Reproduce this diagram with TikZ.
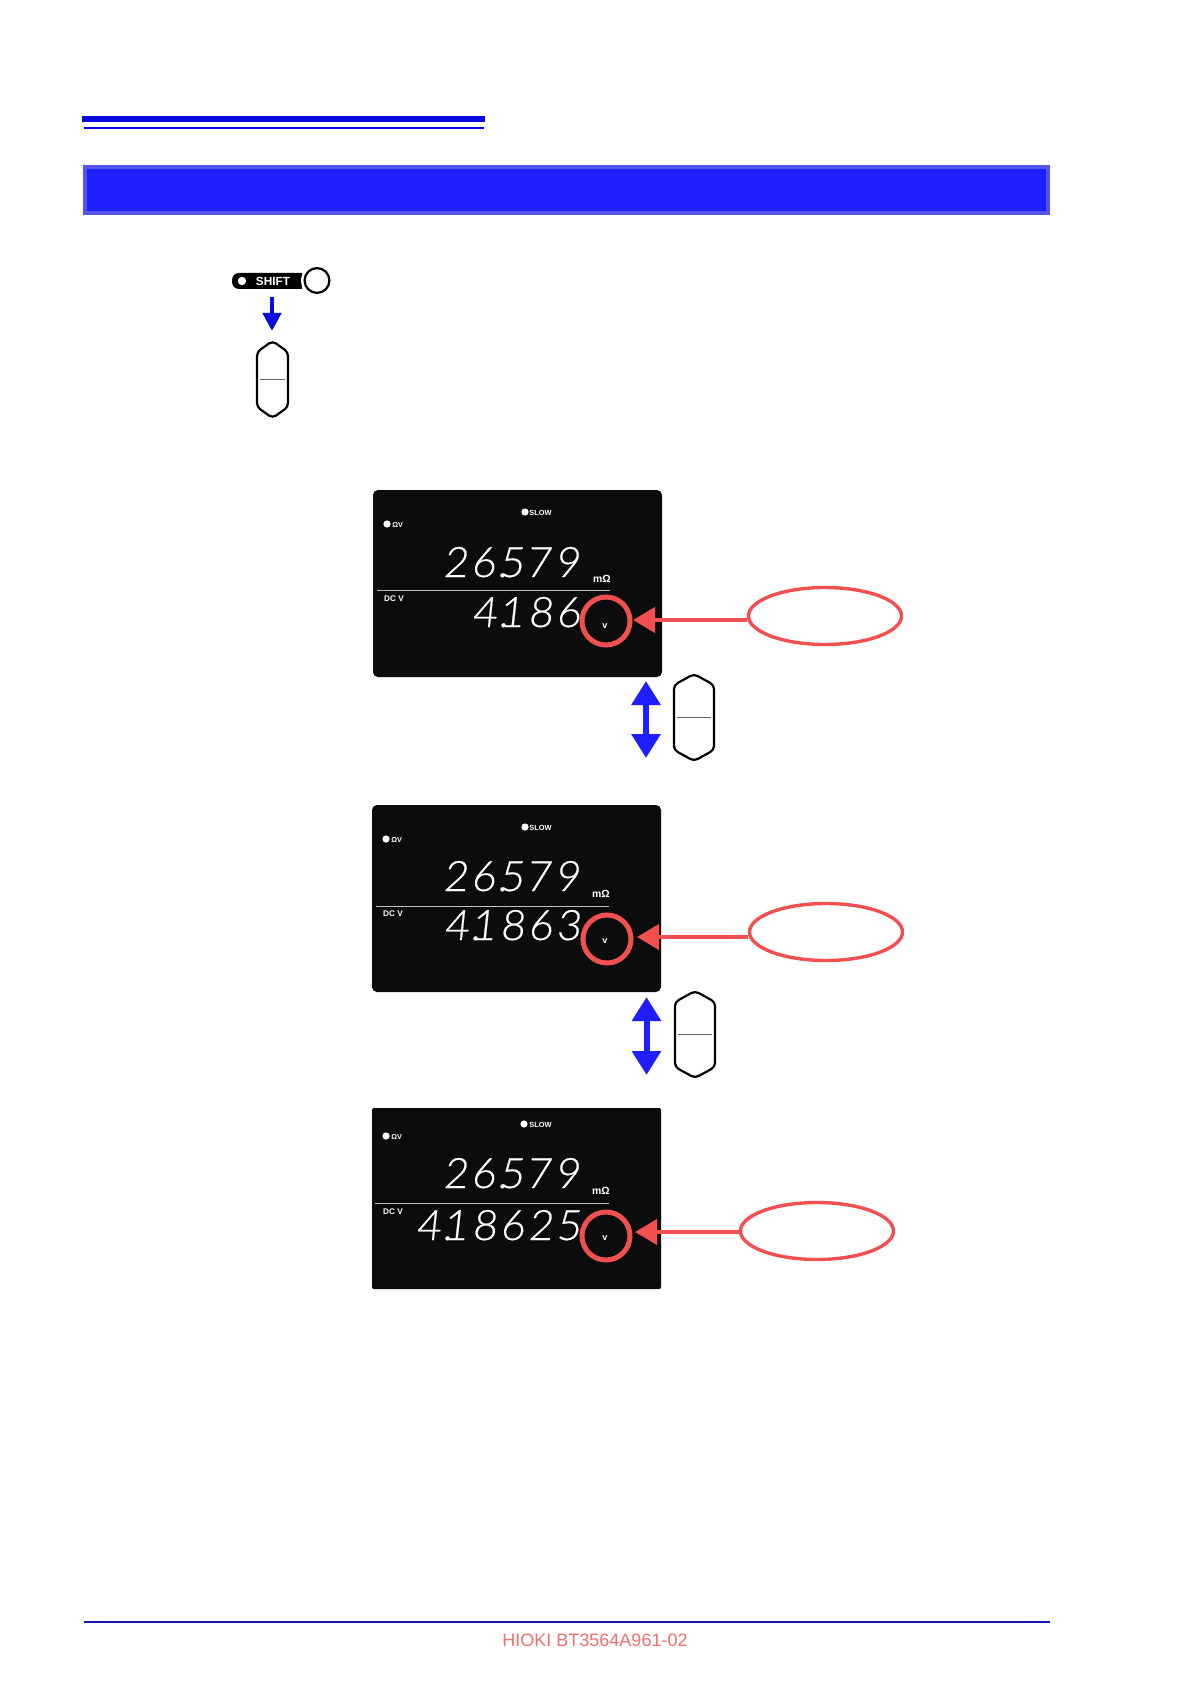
\documentclass[tikz,border=0pt]{standalone}
\usepackage{fontspec}
\usetikzlibrary{arrows.meta,shapes.geometric,calc}
\setmainfont{Liberation Sans}
\newfontfamily\segfont{Lato Light}[FakeSlant=0.11,FakeBold=0.5]
\definecolor{bandblue}{HTML}{1E1EFF}
\definecolor{bandedge}{HTML}{5555EE}
\definecolor{ruleblue}{HTML}{0808E0}
\definecolor{footblue}{HTML}{1414B4}
\definecolor{markred}{HTML}{F25050}
\definecolor{footred}{HTML}{F07070}
\definecolor{lcd}{HTML}{0C0C0C}
\newcommand{\dg}[1]{\makebox[14pt][c]{#1}}
\newcommand{\dgone}[1]{\makebox[14pt][r]{#1\hspace{1.5pt}}}
\newcommand{\dgdot}{\rlap{.}}
\tikzset{
  x=0.5pt,y=-0.5pt,
  lcdbox/.style={fill=lcd,rounded corners=2.5pt},
  lcdtxt/.style={text=white,inner sep=0pt,font=\bfseries\fontsize{#1}{#1}\selectfont},
  bigdigits/.style={text=white,inner sep=0pt,anchor=base west,font=\segfont\fontsize{21}{21}\selectfont},
  lamp/.style={circle,fill=white,inner sep=0pt,minimum size=3.6pt},
  marker/.style={circle,draw=markred,line width=2.5pt,inner sep=0pt,minimum size=24pt},
  callout/.style={ellipse,draw=markred,fill=white,line width=1.7pt,inner sep=0pt,minimum width=76.5pt,minimum height=28.5pt},
  pointer/.style={draw=markred,line width=2pt,-{Triangle[length=11pt,width=12.5pt,fill=markred]}},
  updown/.style={draw=bandblue,line width=3pt,{Triangle[length=12pt,width=14pt,fill=bandblue]}-{Triangle[length=12pt,width=14pt,fill=bandblue]}},
  keyoutline/.style={draw=black,line width=1.1pt,fill=white,rounded corners=2pt},
  keyslit/.style={draw=black!60,line width=0.6pt},
  anchorbox/.style={inner sep=0pt,minimum size=0pt},
}
% name, x1, y1, x2, y2, chamfer
\newcommand{\keycap}[6]{%
  \draw[keyoutline] (#2,#3+#6) -- ({(#2+#4)/2},#3) -- (#4,#3+#6) -- (#4,#5-#6) -- ({(#2+#4)/2},#5) -- (#2,#5-#6) -- cycle;
  \node[anchorbox] (#1) at ({(#2+#4)/2},{(#3+#5)/2}) {};
  \coordinate (#1l) at (#2+3,{(#3+#5)/2});
  \coordinate (#1r) at (#4-3,{(#3+#5)/2});
  \draw[keyslit] (#1l) -- (#1r);
}
\begin{document}
\begin{tikzpicture}
\useasboundingbox (0,0) rectangle (1190,1684);
\fill[white] (0,0) rectangle (1190,1684);
% header
\fill[ruleblue] (82,116) rectangle (485,122);
\fill[ruleblue] (84,127) rectangle (484,129);
\draw[draw=bandedge,fill=bandblue,line width=2pt] (85,167) rectangle (1048,213);
% shift key
\fill[black] (302,273) [rounded corners=3.5pt] -- (232,273) -- (232,289) [sharp corners] -- (302,289) -- cycle;
\fill[white] (317,280.5) circle[radius=16];
\node[lamp,minimum size=4.2pt] (shiftlamp) at (242,281) {};
\node[lcdtxt=5.9] (shifttxt) at (273,281) {SHIFT};
\node[circle,draw=black,line width=1.1pt,fill=white,inner sep=0pt,minimum size=12.4pt] (shiftbtn) at (317,280.5) {};
\keycap{k0}{257}{341}{288}{418}{11}
\coordinate (k0a) at (272,297);
\coordinate (k0b) at (272,331);
\draw[draw=ruleblue,line width=2.2pt,-{Triangle[length=9pt,width=9pt,fill=ruleblue]}] (k0a) -- (k0b);
% display 1
\fill[lcdbox] (373,490) rectangle (662,677);
\node[lamp] (l1a) at (525,512) {};
\node[lcdtxt=3.7,anchor=west] (l1b) at (529,512.5) {SLOW};
\node[lamp] (l1c) at (387,524) {};
\node[lcdtxt=3.6,anchor=west] (l1d) at (392,524.5) {ΩV};
\node[bigdigits] (d1a) at (441,577) {\dg{2}\dg{6}\dgdot\dg{5}\dgone{7}\dg{9}};
\node[lcdtxt=5.2] (u1a) at (602,579) {mΩ};
\draw[white!75!black,line width=0.4pt] (377,590) -- (610,590);
\node[lcdtxt=4.1] (u1b) at (394,599) {DC V};
\node[bigdigits] (d1b) at (470,627) {\dg{4}\dgdot\dgone{1}\dg{8}\dg{6}};
\node[lcdtxt=4.6] (u1c) at (605,626) {v};
\node[marker] (c1) at (606,621) {};
\node[callout] (e1) at (825,616) {};
\coordinate (t1) at (633,620);
\draw[pointer] (e1.west |- t1) -- (t1);
\keycap{k1}{674}{674}{714}{761}{11}
\coordinate (a1) at (646,681);
\coordinate (b1) at (646,758);
\draw[updown] (a1) -- (b1);
% display 2
\fill[lcdbox] (372,805) rectangle (661,992);
\node[lamp] (l2a) at (525,827) {};
\node[lcdtxt=3.7,anchor=west] (l2b) at (529,827.5) {SLOW};
\node[lamp] (l2c) at (386,839) {};
\node[lcdtxt=3.6,anchor=west] (l2d) at (391,839.5) {ΩV};
\node[bigdigits] (d2a) at (441,891) {\dg{2}\dg{6}\dgdot\dg{5}\dgone{7}\dg{9}};
\node[lcdtxt=5.2] (u2a) at (601,894) {mΩ};
\draw[white!75!black,line width=0.4pt] (376,906) -- (609,906);
\node[lcdtxt=4.1] (u2b) at (393,914) {DC V};
\node[bigdigits] (d2b) at (442,940) {\dg{4}\dgdot\dgone{1}\dg{8}\dg{6}\dg{3}};
\node[lcdtxt=4.6] (u2c) at (605,941) {v};
\node[marker] (c2) at (607,939) {};
\node[callout] (e2) at (826,932) {};
\coordinate (t2) at (637,937);
\draw[pointer] (e2.west |- t2) -- (t2);
\keycap{k2}{675}{991}{715}{1078}{11}
\coordinate (a2) at (646.5,997);
\coordinate (b2) at (646.5,1075);
\draw[updown] (a2) -- (b2);
% display 3
\fill[lcdbox,rounded corners=1pt] (372,1108) rectangle (661,1289);
\node[lamp] (l3a) at (524,1124) {};
\node[lcdtxt=3.7,anchor=west] (l3b) at (529,1124.5) {SLOW};
\node[lamp] (l3c) at (386,1136) {};
\node[lcdtxt=3.6,anchor=west] (l3d) at (391,1136.5) {ΩV};
\node[bigdigits] (d3a) at (441,1188) {\dg{2}\dg{6}\dgdot\dg{5}\dgone{7}\dg{9}};
\node[lcdtxt=5.2] (u3a) at (601,1191) {mΩ};
\draw[white!75!black,line width=0.4pt] (375,1203) -- (609,1203);
\node[lcdtxt=4.1] (u3b) at (393,1212) {DC V};
\node[bigdigits] (d3b) at (414,1240) {\dg{4}\dgdot\dgone{1}\dg{8}\dg{6}\dg{2}\dg{5}};
\node[lcdtxt=4.6] (u3c) at (605,1238) {v};
\node[marker] (c3) at (606,1236) {};
\node[callout] (e3) at (817,1231) {};
\coordinate (t3) at (635,1232);
\draw[pointer] (e3.west |- t3) -- (t3);
% footer
\draw[footblue,line width=1pt] (84,1622) -- (1050,1622);
\node[text=footred,inner sep=0pt,font=\fontsize{9}{9}\selectfont] (foot) at (595,1640) {HIOKI BT3564A961-02};
\end{tikzpicture}
\end{document}
